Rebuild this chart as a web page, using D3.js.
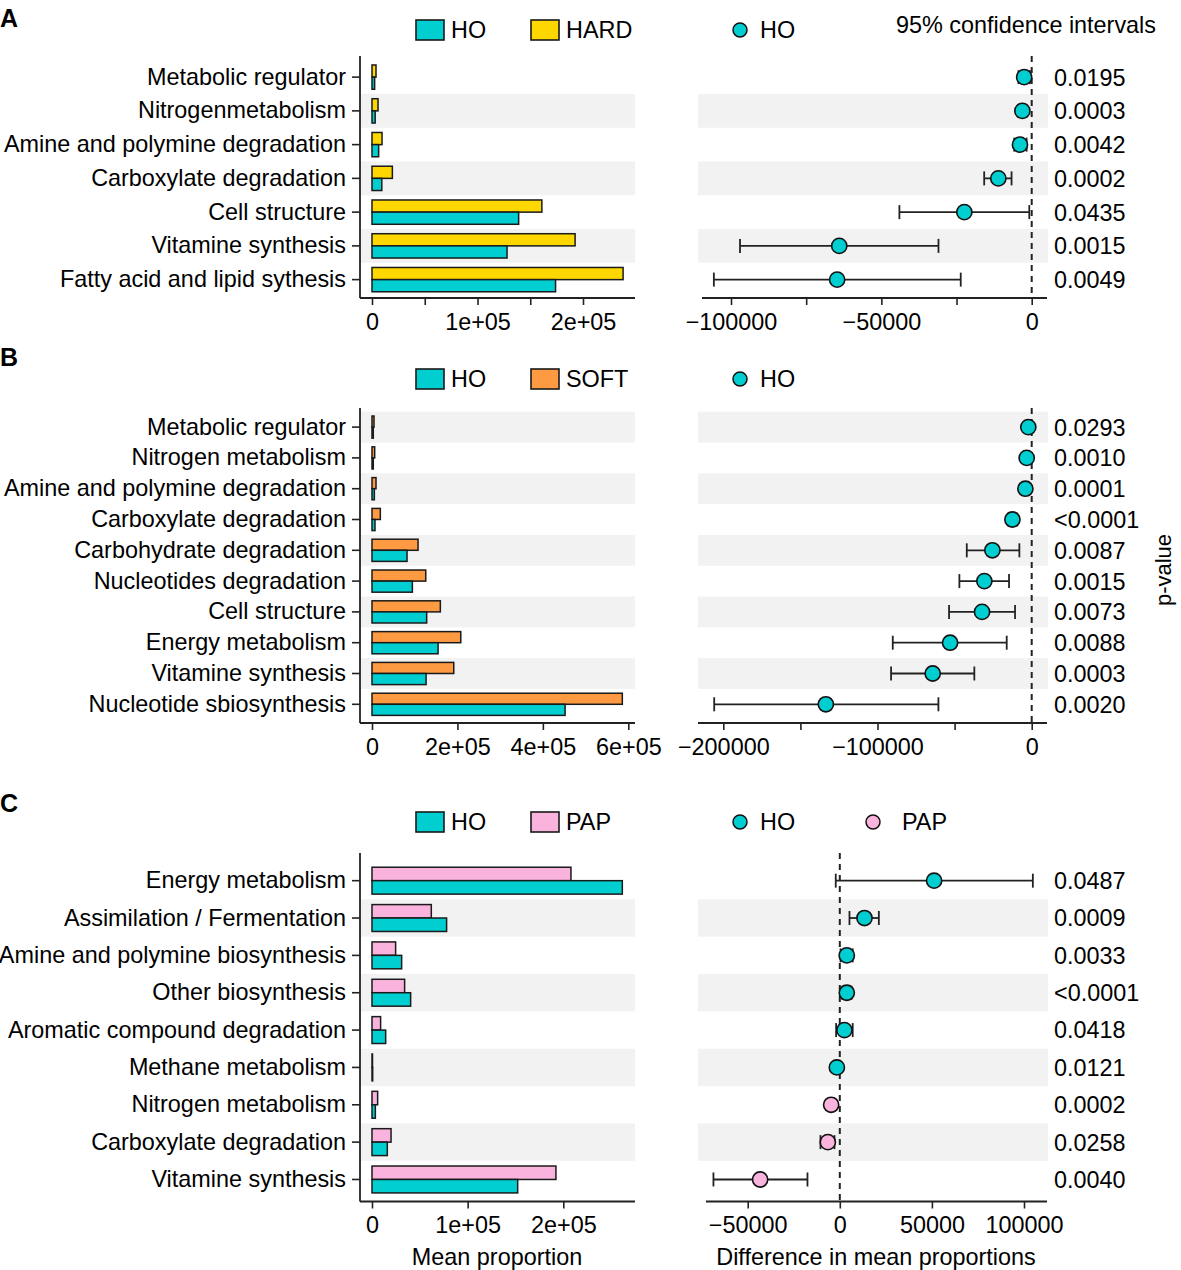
<!DOCTYPE html>
<html><head><meta charset="utf-8">
<script src="https://cdn.jsdelivr.net/npm/d3@7"></script>
<style>body{margin:0;background:#fff}text{font-family:"Liberation Sans",Arial,Helvetica,sans-serif}</style>
</head><body><svg id="chart" width="1181" height="1270"></svg>
<script>
// ---------- DATA ----------
// Panel A : HO vs HARD
const catsA = ["Metabolic regulator","Nitrogenmetabolism","Amine and polymine degradation","Carboxylate degradation","Cell structure","Vitamine synthesis","Fatty acid and lipid sythesis"];
const hoA   = [2500, 3000, 6300, 9300, 139000, 128000, 174000];
const hardA = [3800, 5700, 9500, 19300, 161000, 192500, 238000];
const diffA = [-2500, -3100, -3900, -11100, -22400, -64000, -64700];
const loA   = [-4400, -4500, -5800, -15800, -44000, -97000, -105700];
const hiA   = [-600, -1700, -1700, -6700, -800, -31000, -23600];
const grpA  = ["HO","HO","HO","HO","HO","HO","HO"];
const pA    = ["0.0195","0.0003","0.0042","0.0002","0.0435","0.0015","0.0049"];
const barTicksA = [0, 50000, 100000, 150000, 200000];
const barLabelsA = ["0", "", "1e+05", "", "2e+05"];
const diffTicksA = [-100000, -75000, -50000, -25000, 0];
const diffLabelsA = ["−100000", "", "−50000", "", "0"];

// Panel B : HO vs SOFT
const catsB = ["Metabolic regulator","Nitrogen metabolism","Amine and polymine degradation","Carboxylate degradation","Carbohydrate degradation","Nucleotides degradation","Cell structure","Energy metabolism","Vitamine synthesis","Nucleotide sbiosynthesis"];
const hoB   = [3000, 3000, 5500, 7000, 82000, 94500, 128000, 154700, 126600, 452000];
const softB = [4700, 6300, 9400, 19500, 107800, 125800, 160000, 207800, 191400, 586000];
const diffB = [-2200, -3250, -4100, -12500, -25500, -30700, -32200, -52900, -64200, -133500];
const loB   = [-4500, -5400, -6400, -15200, -42100, -46900, -53600, -90100, -91200, -205900];
const hiB   = [-200, -1500, -1700, -9800, -8000, -14700, -10800, -16200, -37200, -60500];
const grpB  = ["HO","HO","HO","HO","HO","HO","HO","HO","HO","HO"];
const pB    = ["0.0293","0.0010","0.0001","<0.0001","0.0087","0.0015","0.0073","0.0088","0.0003","0.0020"];
const barTicksB = [0, 200000, 400000, 600000];
const barLabelsB = ["0", "2e+05", "4e+05", "6e+05"];
const diffTicksB = [-200000, -150000, -100000, -50000, 0];
const diffLabelsB = ["−200000", "", "−100000", "", "0"];

// Panel C : HO vs PAP
const catsC = ["Energy metabolism","Assimilation / Fermentation","Amine and polymine biosynthesis","Other biosynthesis","Aromatic compound degradation","Methane metabolism","Nitrogen metabolism","Carboxylate degradation","Vitamine synthesis"];
const hoC   = [261700, 78000, 31000, 40400, 14300, 700, 3500, 16000, 152300];
const papC  = [208000, 62000, 24700, 34100, 9000, 400, 5900, 19900, 192300];
const diffC = [51200, 13400, 3800, 3800, 2500, -1600, -4700, -6500, -43250];
const loC   = [-2200, 5250, 400, 1300, -2000, -2900, -6200, -10500, -68600];
const hiC   = [104800, 21200, 7000, 6300, 7000, -200, -2900, -2900, -17550];
const grpC  = ["HO","HO","HO","HO","HO","HO","PAP","PAP","PAP"];
const pC    = ["0.0487","0.0009","0.0033","<0.0001","0.0418","0.0121","0.0002","0.0258","0.0040"];
const barTicksC = [0, 100000, 200000];
const barLabelsC = ["0", "1e+05", "2e+05"];
const diffTicksC = [-50000, 0, 50000, 100000];
const diffLabelsC = ["−50000", "0", "50000", "100000"];

// ---------- STYLE ----------
const COLORS = {HO:"#00CED1", HARD:"#FFD700", SOFT:"#FD9A42", PAP:"#FAB3DD"};
const FS = 23.4;
const svg = d3.select("#chart");

function panel(o) {
  const n = o.cats.length;
  const g = svg.append("g");
  const y = d3.scaleBand().domain(o.cats).range([o.rowTop, o.rowTop + n * o.rowH]);
  const bw = y.bandwidth();
  const sub = d3.scaleBand().domain([o.other, "HO"]).range([bw * 0.14, bw * 0.86]);
  const xl = d3.scaleLinear().domain(o.lDom).range(o.lRange);
  const xr = d3.scaleLinear().domain(o.rDom).range(o.rRange);
  const rows = o.cats.map((c, i) => ({c, i, ho: o.ho[i], ot: o.ot[i], d: o.diff[i], lo: o.lo[i], hi: o.hi[i], grp: o.grp[i], p: o.p[i]}));
  const shaded = rows.filter(r => (n - 1 - r.i) % 2 === 1);

  g.selectAll(".bandL").data(shaded).join("rect")
    .attr("x", 360).attr("width", 275).attr("y", r => y(r.c)).attr("height", bw).attr("fill", "#F2F2F2");
  g.selectAll(".bandR").data(shaded).join("rect")
    .attr("x", 698).attr("width", 350).attr("y", r => y(r.c)).attr("height", bw).attr("fill", "#F2F2F2");

  const bars = [];
  rows.forEach(r => { bars.push({c: r.c, k: o.other, v: r.ot}); bars.push({c: r.c, k: "HO", v: r.ho}); });
  g.selectAll(".bar").data(bars).join("rect")
    .attr("x", xl(0)).attr("y", d => y(d.c) + sub(d.k))
    .attr("width", d => Math.max(0.5, xl(d.v) - xl(0))).attr("height", sub.bandwidth())
    .attr("fill", d => COLORS[d.k]).attr("stroke", "#1a1a1a").attr("stroke-width", 1.5);

  const ya = g.append("g").attr("transform", "translate(360,0)")
    .call(d3.axisLeft(y).tickSize(8).tickPadding(6));
  ya.select(".domain").remove();
  ya.selectAll("text").attr("font-size", FS).attr("fill", "#000").style("font-family", '"Liberation Sans",Arial,sans-serif');
  ya.selectAll("line").attr("stroke", "#222").attr("stroke-width", 1.6);
  g.append("line").attr("x1", 360).attr("x2", 360).attr("y1", o.plotTop).attr("y2", o.axisY).attr("stroke", "#222").attr("stroke-width", 1.8);

  const xa = g.append("g").attr("transform", `translate(0,${o.axisY})`)
    .call(d3.axisBottom(xl).tickValues(o.lTicks).tickFormat((d, i) => o.lLabels[i]).tickSize(7).tickPadding(8));
  xa.select(".domain").remove();
  xa.selectAll("text").attr("font-size", FS).attr("fill", "#000").style("font-family", '"Liberation Sans",Arial,sans-serif');
  xa.selectAll("line").attr("stroke", "#222").attr("stroke-width", 1.6);
  g.append("line").attr("x1", 360).attr("x2", 635).attr("y1", o.axisY).attr("y2", o.axisY).attr("stroke", "#222").attr("stroke-width", 1.8);

  const xb = g.append("g").attr("transform", `translate(0,${o.axisY})`)
    .call(d3.axisBottom(xr).tickValues(o.rTicks).tickFormat((d, i) => o.rLabels[i]).tickSize(7).tickPadding(8));
  xb.select(".domain").remove();
  xb.selectAll("text").attr("font-size", FS).attr("fill", "#000").style("font-family", '"Liberation Sans",Arial,sans-serif');
  xb.selectAll("line").attr("stroke", "#222").attr("stroke-width", 1.6);
  g.append("line").attr("x1", o.rAxisX0).attr("x2", 1047).attr("y1", o.axisY).attr("y2", o.axisY).attr("stroke", "#222").attr("stroke-width", 1.8);

  g.append("line").attr("x1", xr(0)).attr("x2", xr(0)).attr("y1", o.plotTop).attr("y2", o.axisY)
    .attr("stroke", "#222").attr("stroke-width", 2).attr("stroke-dasharray", "6,5");

  const cy = r => y(r.c) + bw / 2;
  g.selectAll(".eb").data(rows).join("line")
    .attr("x1", r => xr(r.lo)).attr("x2", r => xr(r.hi)).attr("y1", cy).attr("y2", cy)
    .attr("stroke", "#222").attr("stroke-width", 1.8);
  ["lo", "hi"].forEach(k => {
    g.selectAll(".cap" + k).data(rows).join("line")
      .attr("x1", r => xr(r[k])).attr("x2", r => xr(r[k]))
      .attr("y1", r => cy(r) - 7).attr("y2", r => cy(r) + 7)
      .attr("stroke", "#222").attr("stroke-width", 1.8);
  });
  g.selectAll(".pt").data(rows).join("circle")
    .attr("cx", r => xr(r.d)).attr("cy", cy).attr("r", 7.6)
    .attr("fill", r => COLORS[r.grp]).attr("stroke", "#111").attr("stroke-width", 1.6);

  g.selectAll(".pv").data(rows).join("text")
    .attr("x", 1054).attr("y", cy).attr("dy", "0.36em").attr("font-size", FS).text(r => r.p);

  const ly = o.legendY;
  const lg = g.append("g");
  const legBars = [{k: "HO", x: 416}, {k: o.other, x: 531}];
  legBars.forEach(l => {
    lg.append("rect").attr("x", l.x).attr("y", ly - 10).attr("width", 28).attr("height", 20)
      .attr("fill", COLORS[l.k]).attr("stroke", "#1a1a1a").attr("stroke-width", 1.6);
    lg.append("text").attr("x", l.x + 35).attr("y", ly).attr("dy", "0.36em").attr("font-size", FS).text(l.k);
  });
  o.ptLegend.forEach((k, i) => {
    const x = 740 + i * 133;
    lg.append("circle").attr("cx", x).attr("cy", ly).attr("r", 7).attr("fill", COLORS[k]).attr("stroke", "#111").attr("stroke-width", 1.5);
    lg.append("text").attr("x", x + 20 + (i ? 9 : 0)).attr("y", ly).attr("dy", "0.36em").attr("font-size", FS).text(k);
  });

  svg.append("text").attr("x", 0).attr("y", o.letterY).attr("font-size", 25).attr("font-weight", "bold").text(o.letter);
}

panel({letter: "A", letterY: 27, legendY: 30, cats: catsA, ho: hoA, ot: hardA, other: "HARD",
  diff: diffA, lo: loA, hi: hiA, grp: grpA, p: pA, ptLegend: ["HO"],
  rowTop: 60.25, rowH: 33.75, plotTop: 56, axisY: 298,
  lDom: [0, 200000], lRange: [372, 583], lTicks: barTicksA, lLabels: barLabelsA,
  rDom: [-100000, 0], rRange: [731, 1031.7], rTicks: diffTicksA, rLabels: diffLabelsA, rAxisX0: 702});

panel({letter: "B", letterY: 366, legendY: 379, cats: catsB, ho: hoB, ot: softB, other: "SOFT",
  diff: diffB, lo: loB, hi: hiB, grp: grpB, p: pB, ptLegend: ["HO"],
  rowTop: 411.7, rowH: 30.8, plotTop: 408, axisY: 723,
  lDom: [0, 600000], lRange: [372, 628.3], lTicks: barTicksB, lLabels: barLabelsB,
  rDom: [-200000, 0], rRange: [723.3, 1031.7], rTicks: diffTicksB, rLabels: diffLabelsB, rAxisX0: 698});

panel({letter: "C", letterY: 812, legendY: 822, cats: catsC, ho: hoC, ot: papC, other: "PAP",
  diff: diffC, lo: loC, hi: hiC, grp: grpC, p: pC, ptLegend: ["HO", "PAP"],
  rowTop: 862, rowH: 37.35, plotTop: 853, axisY: 1201.5,
  lDom: [0, 200000], lRange: [372, 563.3], lTicks: barTicksC, lLabels: barLabelsC,
  rDom: [-50000, 100000], rRange: [747.7, 1024], rTicks: diffTicksC, rLabels: diffLabelsC, rAxisX0: 706});

svg.append("text").attr("x", 1156).attr("y", 25).attr("dy", "0.36em").attr("text-anchor", "end").attr("font-size", FS).text("95% confidence intervals");
svg.append("text").attr("transform", "translate(1163,570) rotate(-90)").attr("text-anchor", "middle").attr("dy", "0.36em").attr("font-size", 22).text("p-value");
svg.append("text").attr("x", 497).attr("y", 1265).attr("text-anchor", "middle").attr("font-size", FS).text("Mean proportion");
svg.append("text").attr("x", 876).attr("y", 1265).attr("text-anchor", "middle").attr("font-size", FS).text("Difference in mean proportions");
</script></body></html>
